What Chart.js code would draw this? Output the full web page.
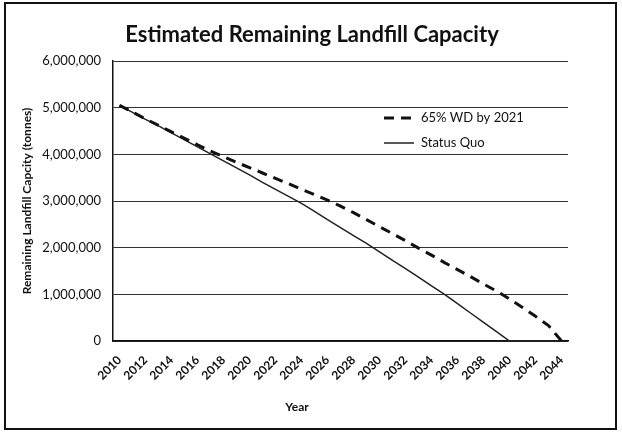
<!DOCTYPE html>
<html>
<head>
<meta charset="utf-8">
<script src="https://cdn.jsdelivr.net/npm/chart.js@4"></script>
<style>
  html, body { margin: 0; padding: 0; background: #fff; }
  .chart-wrapper { width: 622px; height: 433px; }
</style>
</head>
<body>
<div class="chart-wrapper"><canvas id="chart" width="622" height="433"></canvas></div>
<script>
// Years on the x axis
const years = []
for (let y = 2010; y <= 2044; y++) years.push(String(y))

// Remaining capacity in tonnes
const wdValues = [
  5050000, 4905000, 4760000, 4620000, 4480000, 4345000, 4205000, 4070000, 3950000, 3830000,
  3715000, 3600000, 3485000, 3370000, 3250000, 3135000, 3020000, 2890000, 2750000, 2600000,
  2450000, 2300000, 2150000, 1990000, 1840000, 1680000, 1530000, 1380000, 1220000, 1070000,
  900000, 720000, 530000, 330000, 0,
]
const statusQuoValues = [
  5050000, 4900000, 4750000, 4610000, 4460000, 4310000, 4160000, 4010000, 3860000, 3710000,
  3560000, 3400000, 3250000, 3100000, 2950000, 2780000, 2600000, 2430000, 2260000, 2090000,
  1910000, 1730000, 1550000, 1370000, 1180000, 1000000, 800000, 600000, 400000, 200000,
  0, 0, 0, 0, 0,
]
const seriesLabels = ["65% WD by 2021", "Status Quo"]
const chartTitle = "Estimated Remaining Landfill Capacity"

const FONT = "Lato, 'Noto Sans', sans-serif"

// Legend drawn inside the plot area, upper right
const legendPlugin = {
  id: "insideLegend",
  afterDatasetsDraw: (chart) => {
    const ctx = chart.ctx
    const rows = [118, 143]
    ctx.save()
    chart.data.datasets.forEach((ds, i) => {
      const y = rows[i]
      ctx.strokeStyle = ds.borderColor
      ctx.lineWidth = ds.borderWidth
      ctx.setLineDash(ds.borderDash || [])
      ctx.beginPath()
      ctx.moveTo(384, y)
      ctx.lineTo(414, y)
      ctx.stroke()
      ctx.setLineDash([])
      ctx.fillStyle = "#111"
      ctx.font = `13px ${FONT}`
      ctx.textBaseline = "middle"
      ctx.textAlign = "left"
      ctx.fillText(ds.label, 421, y)
    })
    ctx.restore()
  },
}

// Outer frame, title and the "Year" caption (placed like the Excel original)
const framePlugin = {
  id: "frame",
  afterDraw: (chart) => {
    const ctx = chart.ctx
    ctx.save()
    ctx.strokeStyle = "#111"
    ctx.lineWidth = 2
    ctx.strokeRect(5, 3, 611, 426)
    ctx.fillStyle = "#111"
    ctx.textAlign = "center"
    ctx.textBaseline = "middle"
    ctx.font = `bold 22px ${FONT}`
    ctx.fillText(chartTitle, 312, 35)
    ctx.font = `bold 12px ${FONT}`
    ctx.fillText("Year", 297, 407)
    ctx.restore()
  },
}

new Chart(document.getElementById("chart").getContext("2d"), {
  type: "line",
  data: {
    labels: years,
    datasets: [
      {
        label: seriesLabels[0],
        data: wdValues,
        borderColor: "#111",
        borderWidth: 3,
        borderDash: [10, 7],
        pointRadius: 0,
        tension: 0,
      },
      {
        label: seriesLabels[1],
        data: statusQuoValues,
        borderColor: "#222",
        borderWidth: 1.5,
        pointRadius: 0,
        tension: 0,
      },
    ],
  },
  options: {
    responsive: false,
    animation: false,
    layout: { padding: { top: 61, right: 54, bottom: 8, left: 0 } },
    plugins: {
      legend: { display: false },
      tooltip: { enabled: false },
      title: { display: false },
    },
    scales: {
      x: {
        offset: true,
        grid: { display: false },
        border: { display: true, color: "#111", width: 1.5 },
        ticks: {
          autoSkip: false,
          minRotation: 45,
          maxRotation: 45,
          padding: 4,
          color: "#111",
          font: { family: FONT, size: 12, weight: "bold" },
          callback: (val, i) => (i % 2 === 0 ? years[i] : ""),
        },
        afterFit: (scale) => {
          scale.height = 84
        },
      },
      y: {
        min: 0,
        max: 6000000,
        grid: { color: "#333", lineWidth: 1, drawTicks: false },
        border: { display: true, color: "#111", width: 1.5 },
        ticks: {
          stepSize: 1000000,
          padding: 12,
          color: "#111",
          font: { family: FONT, size: 13 },
          callback: (v) => v.toLocaleString("en-US"),
        },
        title: {
          display: true,
          text: "Remaining Landfill Capcity (tonnes)",
          color: "#111",
          font: { family: FONT, size: 12, weight: "bold" },
          padding: { top: 20, bottom: 0 },
        },
        afterFit: (scale) => {
          scale.width = 113
        },
      },
    },
  },
  plugins: [legendPlugin, framePlugin],
})
</script>
</body>
</html>
